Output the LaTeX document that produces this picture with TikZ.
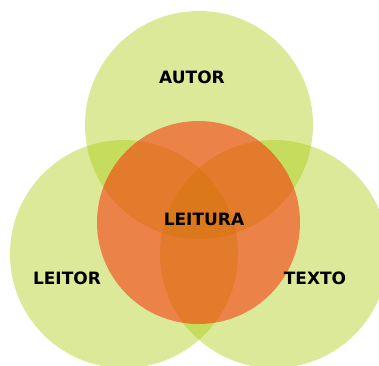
\documentclass[tikz,border=0pt]{standalone}
\usepackage{fontspec}
\setmainfont{DejaVu Sans}
\usepackage{tikz}

\definecolor{lima}{RGB}{165,200,0}
\definecolor{laranja}{RGB}{250,45,5}

\begin{document}
\begin{tikzpicture}[x=1pt,y=-1pt,
	roda/.style={circle,inner sep=0pt,minimum size=228pt,fill=lima,fill opacity=0.4},
	miolo/.style={circle,inner sep=0pt,minimum size=203pt,fill=laranja,fill opacity=0.55},
	rotulo/.style={font=\fontsize{17}{20}\selectfont\bfseries,text=black}]
	\useasboundingbox (0,0) rectangle (379,365);
	\node[roda] (autor) at (199,125) {};
	\node[roda] (leitor) at (124,254) {};
	\node[roda] (texto) at (274,254) {};
	\node[miolo] (leitura) at (198.5,222.5) {};

	\node[rotulo] (tautor) at (192,77) {AUTOR};
	\node[rotulo] (tleitura) at (204,219) {LEITURA};
	\node[rotulo] (tleitor) at (67,278) {LEITOR};
	\node[rotulo] (ttexto) at (315,278) {TEXTO};
\end{tikzpicture}
\end{document}
